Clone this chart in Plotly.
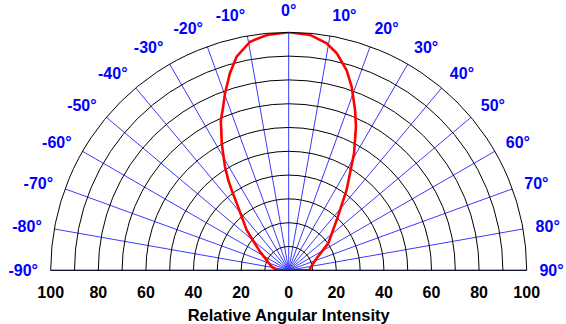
import plotly.graph_objects as go

# Measured radiation pattern (angle in degrees, relative intensity in %)
angles = [-90, -88.6, -78, -57, -46.2, -37.8, -35.4, -33.8, -31.6, -27.8, -24.3,
          -22.4, -19.8, -16.6, -13.7, -9.6, -5.3, 0, 5.2, 9.5, 12.5, 16.1, 18.9,
          22.5, 25.1, 29.2, 32.3, 35.8, 43.7, 55.7, 66.8, 84.6, 90, 90]
intensity = [0, 5, 7.3, 14.4, 24.5, 35.6, 41.4, 45.6, 51.1, 60.3, 69.3,
             72.8, 79.0, 86.4, 92.4, 97.4, 99.3, 100, 99.3, 96.7, 93.4, 87.6, 81.6,
             72.9, 66.6, 56.3, 48.2, 41.6, 29.2, 20.1, 12.8, 9.0, 9.0, 0]

angle_ticks = list(range(-90, 91, 10))
angle_labels = [f"{a}°" for a in angle_ticks]
radial_ticks = list(range(10, 101, 10))
x_ticks = list(range(-100, 101, 20))
x_labels = [str(abs(v)) for v in x_ticks]

BLUE = "#0000ff"
GRIDBLUE = "#3a3aff"
FONT = "Liberation Sans, Arial, sans-serif"

xdom = [50.7 / 566, 526.7 / 566]
ydom = [(324 - 270.3) / 324, (324 - 32.3) / 324]

fig = go.Figure()
fig.add_trace(go.Scatterpolar(
    r=intensity, theta=angles, mode="lines",
    line=dict(color="#ff0000", width=2.6),
    showlegend=False, hoverinfo="skip"))
# invisible trace to carry the linear intensity scale below the half-circle
fig.add_trace(go.Scatter(
    x=[x_ticks[0], x_ticks[-1]], y=[0, 0], mode="markers",
    marker=dict(opacity=0), showlegend=False, hoverinfo="skip"))

fig.update_layout(
    width=566, height=324,
    margin=dict(l=0, r=0, t=0, b=0, autoexpand=False),
    paper_bgcolor="white", plot_bgcolor="rgba(0,0,0,0)",
    polar=dict(
        domain=dict(x=xdom, y=ydom),
        sector=[0, 180],
        bgcolor="white",
        radialaxis=dict(range=[0, 100], tickvals=radial_ticks, showticklabels=False,
                        showline=False, ticks="", gridcolor="black", gridwidth=1),
        angularaxis=dict(rotation=90, direction="clockwise", thetaunit="degrees",
                         tickmode="array", tickvals=angle_ticks, ticktext=angle_labels,
                         ticks="outside", ticklen=9, tickcolor="rgba(0,0,0,0)",
                         tickfont=dict(family=FONT, size=16, color=BLUE, weight="bold"),
                         gridcolor=GRIDBLUE, gridwidth=1,
                         showline=True, linecolor="black", linewidth=1),
    ),
    xaxis=dict(domain=xdom, range=[-100, 100], tickmode="array", tickvals=x_ticks,
               ticktext=x_labels, showgrid=False, zeroline=False, showline=False,
               ticks="outside", ticklen=7, tickcolor="rgba(0,0,0,0)", automargin=False,
               tickfont=dict(family=FONT, size=16, color="black", weight="bold"),
               title=dict(text="Relative Angular Intensity", standoff=9,
                          font=dict(family=FONT, size=16.5, color="black", weight="bold"))),
    yaxis=dict(domain=ydom, range=[0, 100], visible=False),
)

fig.write_html("out.html", config={"displayModeBar": False},
               post_script="document.body.style.margin='0px';")
